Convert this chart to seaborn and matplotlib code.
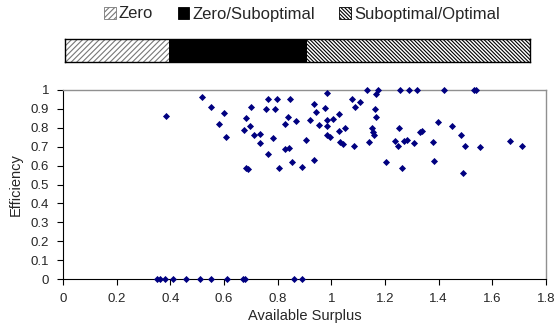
import matplotlib
matplotlib.use("Agg")
import matplotlib.pyplot as plt
import matplotlib.patches as mpatches
import seaborn as sns
import pandas as pd


# surplus / efficiency per session
surplus = [
    0.35, 0.36, 0.38, 0.41, 0.46, 0.51, 0.55, 0.61, 0.67, 0.68, 0.86, 0.89,
    0.385, 0.518, 0.553, 0.599, 0.581, 0.608, 0.683, 0.701, 0.698, 0.676,
    0.713, 0.733, 0.733, 0.683, 0.688, 0.763, 0.797, 0.758, 0.790, 0.846,
    0.838, 0.826, 0.870, 0.782, 0.765, 0.829, 0.844, 0.804, 0.855, 0.890,
    0.904, 0.934, 0.922, 0.937, 0.941, 0.982, 0.977, 0.955, 0.985, 0.983,
    1.008, 1.027, 0.985, 0.994, 1.028, 1.052, 1.034, 1.042, 1.078, 1.088,
    1.108, 1.086, 1.133, 1.175, 1.166, 1.161, 1.168, 1.151, 1.157, 1.160,
    1.140, 1.204, 1.256, 1.289, 1.319, 1.420, 1.532, 1.540, 1.251, 1.236,
    1.248, 1.265, 1.271, 1.283, 1.307, 1.329, 1.338, 1.380, 1.382, 1.399,
    1.451, 1.484, 1.499, 1.491, 1.553, 1.667, 1.710,
]
efficiency = [
    0, 0, 0, 0, 0, 0, 0, 0, 0, 0, 0, 0,
    0.864, 0.961, 0.910, 0.878, 0.822, 0.750, 0.850, 0.910, 0.811, 0.790,
    0.760, 0.769, 0.720, 0.587, 0.583, 0.954, 0.951, 0.898, 0.898, 0.954,
    0.855, 0.822, 0.834, 0.746, 0.663, 0.686, 0.693, 0.587, 0.621, 0.594,
    0.737, 0.628, 0.843, 0.924, 0.884, 0.982, 0.903, 0.815, 0.841, 0.810,
    0.845, 0.873, 0.764, 0.750, 0.783, 0.801, 0.723, 0.713, 0.954, 0.912,
    0.935, 0.704, 1.0, 1.0, 0.977, 0.899, 0.859, 0.801, 0.780, 0.762,
    0.723, 0.621, 1.0, 1.0, 1.0, 1.0, 1.0, 1.0, 0.797, 0.732,
    0.704, 0.586, 0.730, 0.737, 0.718, 0.776, 0.785, 0.725, 0.623, 0.832,
    0.810, 0.764, 0.705, 0.561, 0.698, 0.730, 0.704,
]

# share of outcomes (stacked bar on top)
outcome_labels = ["Zero", "Zero/Suboptimal", "Suboptimal/Optimal"]
outcome_share = [22.4, 29.7, 47.9]

xticks = [0, 0.2, 0.4, 0.6, 0.8, 1, 1.2, 1.4, 1.6, 1.8]
yticks = [0, 0.1, 0.2, 0.3, 0.4, 0.5, 0.6, 0.7, 0.8, 0.9, 1]

sns.set_style("white")
plt.rcParams["font.family"] = ["Liberation Sans", "DejaVu Sans"]
plt.rcParams["hatch.linewidth"] = 0.8

df = pd.DataFrame({"surplus": surplus, "efficiency": efficiency})

fig = plt.figure(figsize=(5.58, 3.33), dpi=100)

# stacked bar
bar_ax = fig.add_axes([65 / 558, 1 - 62 / 333, 465 / 558, 23 / 333])
hatches = ["//////", None, "\\" * 9]
facecolors = ["white", "black", "white"]
hatchcolors = ["#777777", "black", "black"]
left = 0
handles = []
for lab, val, h, fc, hc in zip(outcome_labels, outcome_share, hatches,
                               facecolors, hatchcolors):
    bar_ax.barh(0, val, left=left, height=1, color=fc, hatch=h,
                edgecolor=hc, linewidth=0)
    handles.append(mpatches.Patch(facecolor=fc, hatch=h, edgecolor=hc,
                                  linewidth=0.6, label=lab))
    left += val
bar_ax.set_xlim(0, sum(outcome_share))
bar_ax.set_ylim(-0.5, 0.5)
bar_ax.set_xticks([])
bar_ax.set_yticks([])
for sp in bar_ax.spines.values():
    sp.set_color("black")
    sp.set_linewidth(1)

fig.legend(handles=handles, loc="center", bbox_to_anchor=(302 / 558, 1 - 14 / 333),
           ncol=3, frameon=False, fontsize=12, handlelength=0.7,
           handleheight=0.7, handletextpad=0.2, columnspacing=1.45)

# scatter
ax = fig.add_axes([63 / 558, 1 - 279 / 333, 483 / 558, 189 / 333])
sns.scatterplot(data=df, x="surplus", y="efficiency", ax=ax, marker="D",
                color="#000080", s=13, linewidth=0, clip_on=False, zorder=3)

ax.set_xlim(0, 1.8)
ax.set_ylim(0, 1)
ax.set_xticks(xticks)
ax.set_xticklabels([f"{t:g}" for t in xticks])
ax.set_yticks(yticks)
ax.set_yticklabels([f"{t:g}" for t in yticks])
ax.tick_params(axis="both", labelsize=9.5, length=4, width=0.8, color="black",
               direction="out", bottom=True, left=True, pad=6)
ax.set_xlabel("Available Surplus", fontsize=10.5, labelpad=3)
ax.set_ylabel("Efficiency", fontsize=10.5, labelpad=6)

for side in ["left", "bottom"]:
    ax.spines[side].set_color("black")
    ax.spines[side].set_linewidth(0.8)
for side in ["top", "right"]:
    ax.spines[side].set_visible(True)
    ax.spines[side].set_color("#909090")
    ax.spines[side].set_linewidth(1)

fig.savefig("out.png", dpi=100)
